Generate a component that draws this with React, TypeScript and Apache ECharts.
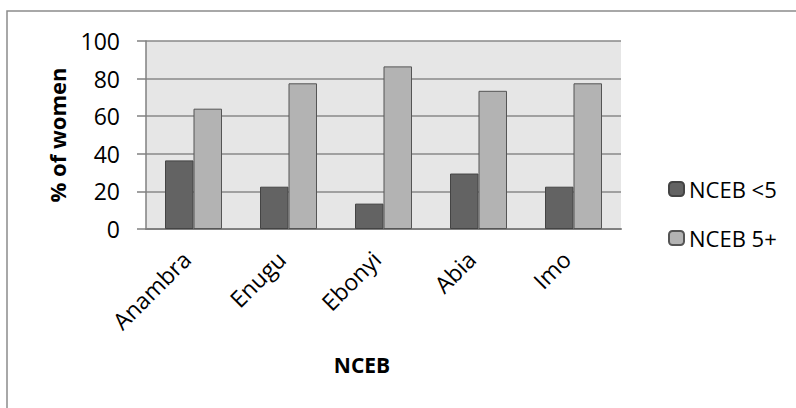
import React, { useEffect, useRef } from "react";
import * as echarts from "echarts";

const categories = ["Anambra", "Enugu", "Ebonyi", "Abia", "Imo"];
const seriesNames = ["NCEB <5", "NCEB 5+"];
const under5 = [36.5, 22.5, 13.5, 29.5, 22.5];
const fivePlus = [64, 77.5, 86.5, 73.5, 77.5];
const yTitle = "% of women";
const xTitle = "NCEB";

const FONT = "'Open Sans', 'Liberation Sans', sans-serif";

export default function App() {
  const ref = useRef<HTMLDivElement>(null);
  useEffect(() => {
    if (!ref.current) return;
    const chart = echarts.init(ref.current, undefined, { renderer: "svg" });
    chart.setOption({
      animation: false,
      backgroundColor: "#ffffff",
      textStyle: { fontFamily: FONT },
      graphic: [
        {
          type: "rect",
          shape: { x: 7, y: 11, width: 800, height: 410 },
          style: { fill: "none", stroke: "#8c8c8c", lineWidth: 1.5 },
          silent: true,
        },
        {
          type: "text",
          x: 57,
          y: 135,
          rotation: Math.PI / 2,
          style: {
            text: yTitle,
            font: `bold 22px ${FONT}`,
            fill: "#000",
            align: "center",
            verticalAlign: "middle",
          },
        },
        {
          type: "text",
          x: 362,
          y: 365,
          style: {
            text: xTitle,
            font: `bold 21px ${FONT}`,
            fill: "#000",
            align: "center",
            verticalAlign: "middle",
          },
        },
      ],
      grid: { left: 146, right: 175, top: 41, bottom: 179, backgroundColor: "#e6e6e6", show: true, borderWidth: 0 },
      legend: {
        orient: "vertical",
        left: 663,
        top: 173,
        itemWidth: 15,
        itemHeight: 14,
        itemGap: 27,
        data: seriesNames,
        textStyle: { fontFamily: FONT, fontSize: 22, color: "#000", padding: [0, 0, 0, 0] },
      },
      xAxis: {
        type: "category",
        data: categories,
        axisLine: { show: true, lineStyle: { color: "#808080", width: 2 } },
        axisTick: { show: false },
        axisLabel: {
          rotate: 45,
          margin: 19,
          fontSize: 23,
          color: "#000",
          fontFamily: FONT,
          padding: [0, 10, 0, 0],
        },
        splitLine: { show: false },
      },
      yAxis: {
        type: "value",
        min: 0,
        max: 100,
        interval: 20,
        axisLine: { show: true, lineStyle: { color: "#808080", width: 1.5 } },
        axisTick: { show: true, length: 9, lineStyle: { color: "#808080", width: 1.5 } },
        axisLabel: { margin: 26, fontSize: 23, color: "#000", fontFamily: FONT },
        splitLine: { show: true, lineStyle: { color: "#888888", width: 1.5 } },
      },
      series: [
        {
          name: seriesNames[0],
          type: "bar",
          data: under5,
          barGap: "0%",
          barCategoryGap: "40%",
          itemStyle: { color: "#636363", borderColor: "#444444", borderWidth: 1 },
        },
        {
          name: seriesNames[1],
          type: "bar",
          data: fivePlus,
          barGap: "0%",
          barCategoryGap: "40%",
          itemStyle: { color: "#b3b3b3", borderColor: "#555555", borderWidth: 1 },
        },
      ],
    });
    return () => chart.dispose();
  }, []);
  return (
    <div
      ref={ref}
      style={{ position: "fixed", left: 0, top: 0, width: 796, height: 408 }}
    />
  );
}
